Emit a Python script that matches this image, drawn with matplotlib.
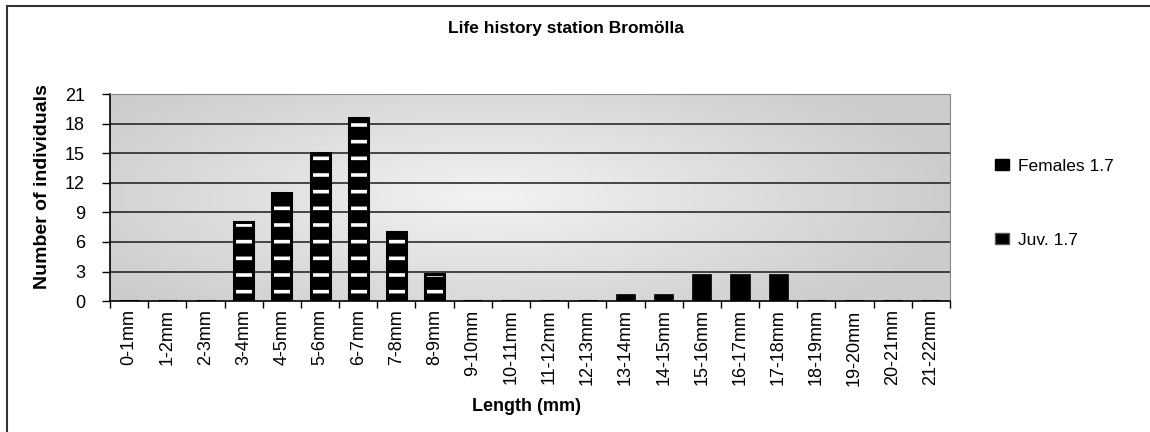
#!/usr/bin/env python3
import numpy as np
import matplotlib
matplotlib.use('Agg')
import matplotlib.pyplot as plt
from matplotlib.lines import Line2D
from matplotlib.patches import Patch

categories = ['0-1mm', '1-2mm', '2-3mm', '3-4mm', '4-5mm', '5-6mm', '6-7mm',
              '7-8mm', '8-9mm', '9-10mm', '10-11mm', '11-12mm', '12-13mm',
              '13-14mm', '14-15mm', '15-16mm', '16-17mm', '17-18mm',
              '18-19mm', '19-20mm', '20-21mm', '21-22mm']
females = [0, 0, 0, 0, 0, 0, 0, 0, 0, 0, 0, 0, 0,
           0.75, 0.75, 2.75, 2.75, 2.75, 0, 0, 0, 0]
juveniles = [0, 0, 0, 8, 11, 15, 18.6, 7, 2.75, 0, 0, 0, 0,
             0, 0, 0, 0, 0, 0, 0, 0, 0]
yticks = [0, 3, 6, 9, 12, 15, 18, 21]


def draw():
    plt.rcParams['font.family'] = ['Liberation Sans', 'DejaVu Sans']
    plt.rcParams['hatch.linewidth'] = 2.6

    fig = plt.figure(figsize=(11.5, 4.32), dpi=100, facecolor='white')
    ax = fig.add_axes([0.0957, 0.303, 0.7304, 0.479])

    # Gradient background of the plot area
    gx, gy = np.meshgrid(np.linspace(0, 1, 300), np.linspace(0, 1, 120))
    r = np.sqrt(((gx - 0.45) / 0.55) ** 2 + ((gy - 0.5) / 0.75) ** 2)
    shade = 0.95 - 0.15 * np.clip(r, 0, 1)
    ax.imshow(shade, cmap='gray', vmin=0, vmax=1, extent=[0, 1, 0, 1],
              transform=ax.transAxes, aspect='auto', zorder=0,
              interpolation='bilinear')

    x = np.arange(len(categories))
    ax.set_xlim(-0.5, len(categories) - 0.5)
    ax.set_ylim(0, 21)

    for y in yticks[1:-1]:
        ax.axhline(y, color='#1a1a1a', lw=1.1, zorder=1)

    ax.bar(x, females, width=0.5, color='black', edgecolor='black',
           lw=0.5, zorder=2)
    # striped juvenile bars: white hatch, then black outline on top
    ax.bar(x, juveniles, width=0.5, color='black', edgecolor='white',
           hatch='-', lw=0, zorder=2)
    ax.bar(x, juveniles, width=0.5, fill=False, edgecolor='black',
           lw=2.2, zorder=3)

    ax.set_yticks(yticks)
    ax.set_yticklabels([str(v) for v in yticks], fontsize=13)
    ax.set_xticks(np.arange(len(categories) + 1) - 0.5)
    ax.set_xticklabels([])
    ax.set_xticks(x, minor=True)
    ax.set_xticklabels(categories, minor=True, rotation=90, fontsize=13)
    ax.tick_params(axis='x', which='minor', length=0, pad=6)
    ax.tick_params(axis='x', which='major', length=5, width=1, direction='out')
    ax.tick_params(axis='y', length=6, width=1, direction='out', pad=12)

    for side in ['top', 'right']:
        ax.spines[side].set_color('#888888')
    ax.spines['left'].set_linewidth(1.2)
    ax.spines['bottom'].set_linewidth(1.2)

    ax.set_ylabel('Number of individuals', fontsize=14, fontweight='bold')
    ax.yaxis.set_label_coords(-0.0705, 0.553)
    ax.set_xlabel('Length (mm)', fontsize=13, fontweight='bold')
    ax.xaxis.set_label_coords(0.496, -0.468)
    fig.text(0.492, 0.935, 'Life history station Bromölla', ha='center',
             va='center', fontsize=12.5, fontweight='bold')

    handles = [Patch(facecolor='black', edgecolor='black'),
               Patch(facecolor='black', edgecolor='#555555')]
    fig.legend(handles, ['Females 1.7', 'Juv. 1.7'], loc='center left',
               bbox_to_anchor=(0.852, 0.53), frameon=False, fontsize=12.5,
               labelspacing=3.4, handlelength=0.8, handleheight=0.6,
               handletextpad=0.5)

    # Chart frame
    fig.add_artist(Line2D([0.006, 0.006], [0.0, 0.986], color='#333333',
                          lw=1.5, transform=fig.transFigure))
    fig.add_artist(Line2D([0.006, 1.0], [0.986, 0.986], color='#333333',
                          lw=1.5, transform=fig.transFigure))

    plt.savefig('out.png', dpi=100, facecolor=fig.get_facecolor())


if __name__ == '__main__':
    draw()
